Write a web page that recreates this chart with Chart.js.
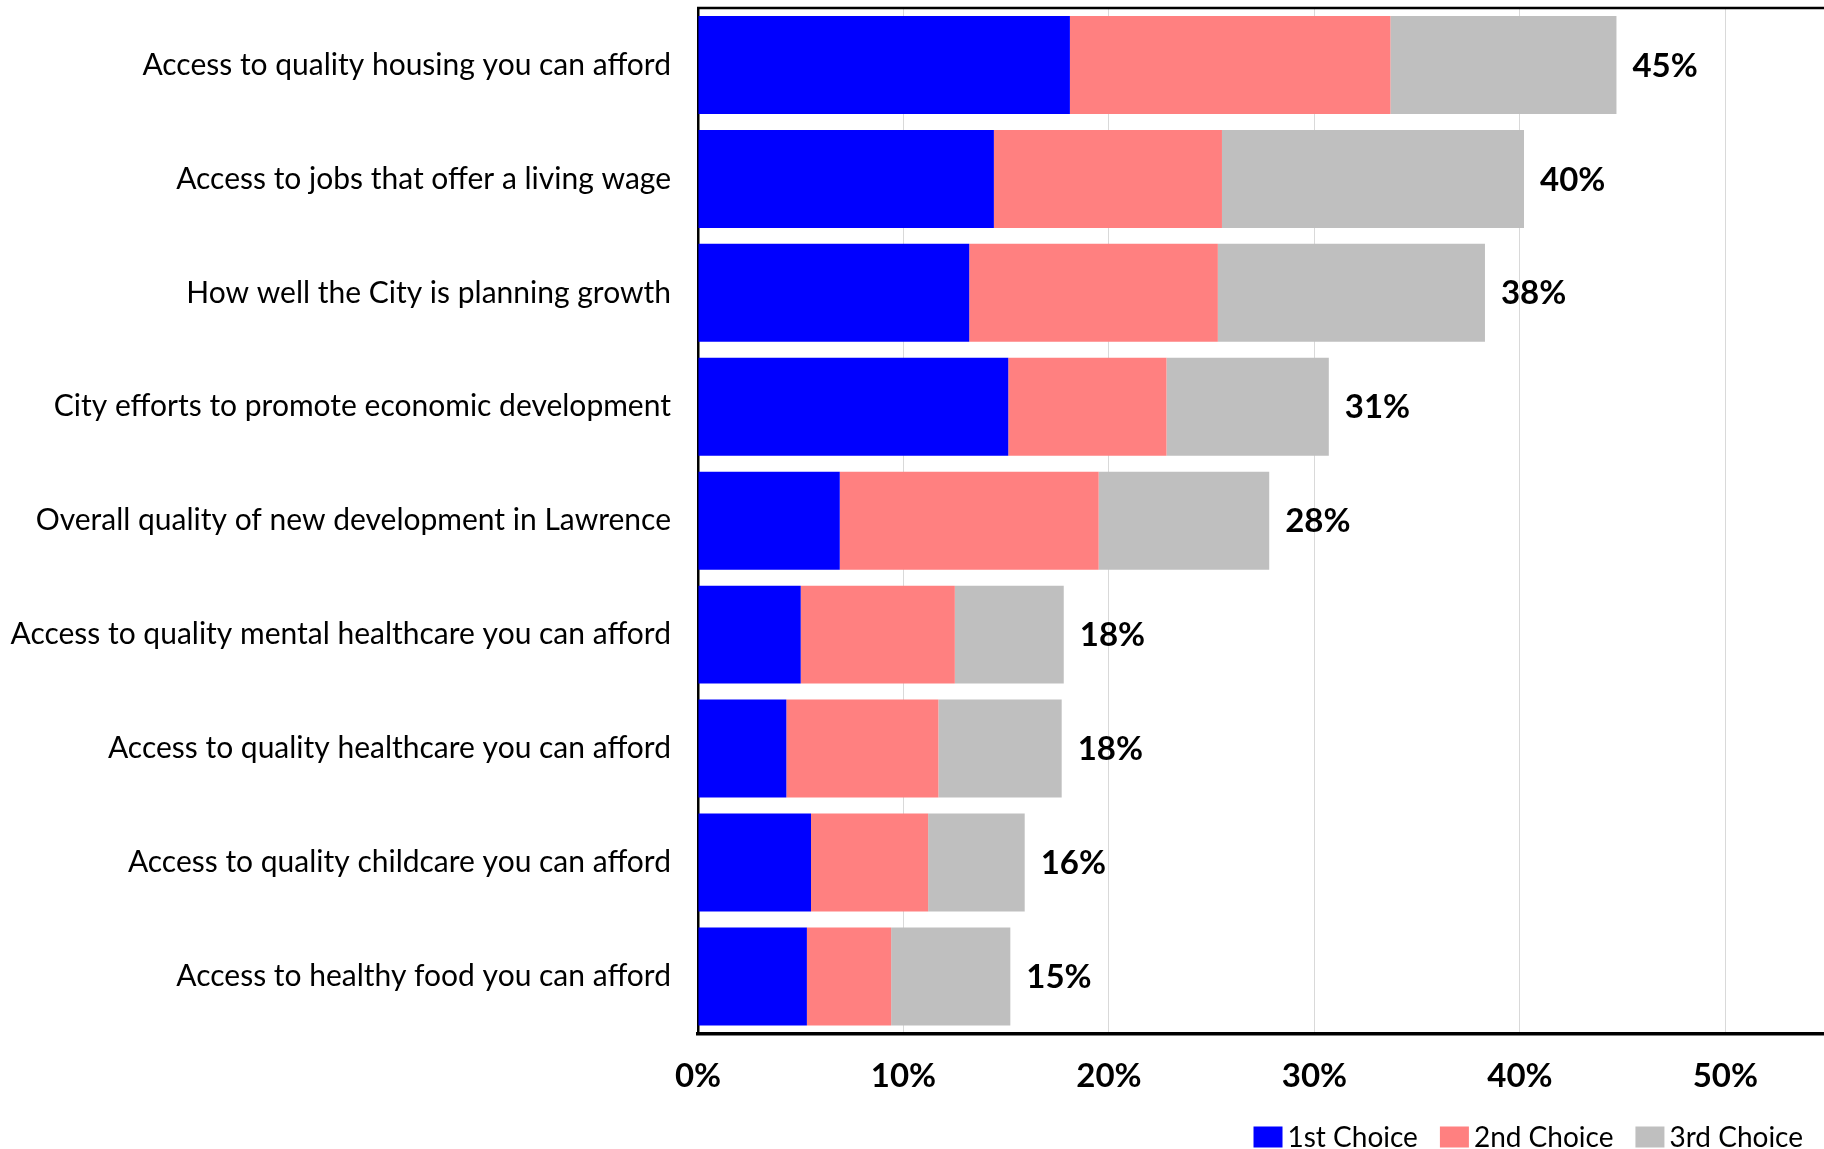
<!DOCTYPE html>
<html>
<head>
<meta charset="utf-8">
<script src="https://cdn.jsdelivr.net/npm/chart.js@4.4.0/dist/chart.umd.min.js"></script>
<style>
  body { margin: 0; background: #fff; }
  canvas { display: block; }
</style>
</head>
<body>
<canvas id="chart" width="1824" height="1149"></canvas>
<script>
// Data (percent of respondents)
const categories = [
    'Access to quality housing you can afford',
    'Access to jobs that offer a living wage',
    'How well the City is planning growth',
    'City efforts to promote economic development',
    'Overall quality of new development in Lawrence',
    'Access to quality mental healthcare you can afford',
    'Access to quality healthcare you can afford',
    'Access to quality childcare you can afford',
    'Access to healthy food you can afford'
];
const firstChoice  = [18.1, 14.4, 13.2, 15.1, 6.9, 5.0, 4.3, 5.5, 5.3];
const secondChoice = [15.6, 11.1, 12.1, 7.7, 12.6, 7.5, 7.4, 5.7, 4.1];
const thirdChoice  = [11.0, 14.7, 13.0, 7.9, 8.3, 5.3, 6.0, 4.7, 5.8];
const seriesNames  = ['1st Choice', '2nd Choice', '3rd Choice'];
const xTicks       = [0, 10, 20, 30, 40, 50];

const FONT = 'Lato, "Open Sans", sans-serif';

// Total label at the end of each stacked bar
const totalLabels = {
    id: 'totalLabels',
    afterDatasetsDraw(chart) {
        const ctx = chart.ctx;
        const last = chart.getDatasetMeta(chart.data.datasets.length - 1);
        ctx.save();
        ctx.font = 'bold 33px ' + FONT;
        ctx.fillStyle = '#000';
        ctx.textAlign = 'left';
        ctx.textBaseline = 'middle';
        last.data.forEach((bar, i) => {
            const total = firstChoice[i] + secondChoice[i] + thirdChoice[i];
            ctx.fillText(Math.round(total) + '%', bar.x + 16, bar.y + 1);
        });
        ctx.restore();
    }
};

// Top border of the plot area
const topBorder = {
    id: 'topBorder',
    afterDraw(chart) {
        const { ctx, chartArea } = chart;
        ctx.save();
        ctx.strokeStyle = '#000';
        ctx.lineWidth = 2.5;
        ctx.beginPath();
        ctx.moveTo(chartArea.left - 1, chartArea.top);
        ctx.lineTo(chartArea.right, chartArea.top);
        ctx.stroke();
        ctx.restore();
    }
};

// Legend in the bottom right corner, boxes close to their text
const cornerLegend = {
    id: 'cornerLegend',
    afterDraw(chart) {
        const ctx = chart.ctx;
        const boxW = 29, boxH = 21, gap = 5, itemGap = 22;
        const rightEdge = 1803, midY = 1137;
        ctx.save();
        ctx.font = '28px ' + FONT;
        const sets = chart.data.datasets;
        let width = 0;
        sets.forEach((ds, i) => {
            width += boxW + gap + ctx.measureText(ds.label).width;
            if (i < sets.length - 1) width += itemGap;
        });
        let x = rightEdge - width;
        ctx.textAlign = 'left';
        ctx.textBaseline = 'middle';
        sets.forEach(ds => {
            ctx.fillStyle = ds.backgroundColor;
            ctx.fillRect(x, midY - boxH / 2, boxW, boxH);
            x += boxW + gap;
            ctx.fillStyle = '#000';
            ctx.fillText(ds.label, x, midY + 1);
            x += ctx.measureText(ds.label).width + itemGap;
        });
        ctx.restore();
    }
};

new Chart(document.getElementById('chart'), {
    type: 'bar',
    data: {
        labels: categories,
        datasets: [
            { label: seriesNames[0], data: firstChoice,  backgroundColor: '#0000FF' },
            { label: seriesNames[1], data: secondChoice, backgroundColor: '#FF8080' },
            { label: seriesNames[2], data: thirdChoice,  backgroundColor: '#BFBFBF' }
        ]
    },
    options: {
        indexAxis: 'y',
        responsive: false,
        animation: false,
        layout: { padding: { top: 8, right: 0, bottom: 30, left: 0 } },
        datasets: {
            bar: { categoryPercentage: 1, barPercentage: 0.86, borderWidth: 0 }
        },
        plugins: {
            legend: { display: false },
            tooltip: { enabled: false }
        },
        scales: {
            x: {
                stacked: true,
                min: 0,
                max: 54.8,
                afterBuildTicks(scale) {
                    scale.ticks = xTicks.map(v => ({ value: v }));
                },
                grid: { color: '#D9D9D9', lineWidth: 1, drawTicks: false },
                border: { color: '#000', width: 3.5 },
                ticks: {
                    padding: 23,
                    color: '#000',
                    font: { family: FONT, size: 33, weight: 'bold' },
                    callback: v => v + '%'
                }
            },
            y: {
                stacked: true,
                afterFit(scale) {
                    scale.width = 698;
                    scale.paddingTop = 0;
                    scale.paddingBottom = 0;
                },
                grid: { display: false, drawTicks: false },
                border: { color: '#000', width: 2.5 },
                ticks: {
                    padding: 27,
                    color: '#000',
                    font: { family: FONT, size: 30 }
                }
            }
        }
    },
    plugins: [totalLabels, topBorder, cornerLegend]
});
</script>
</body>
</html>
